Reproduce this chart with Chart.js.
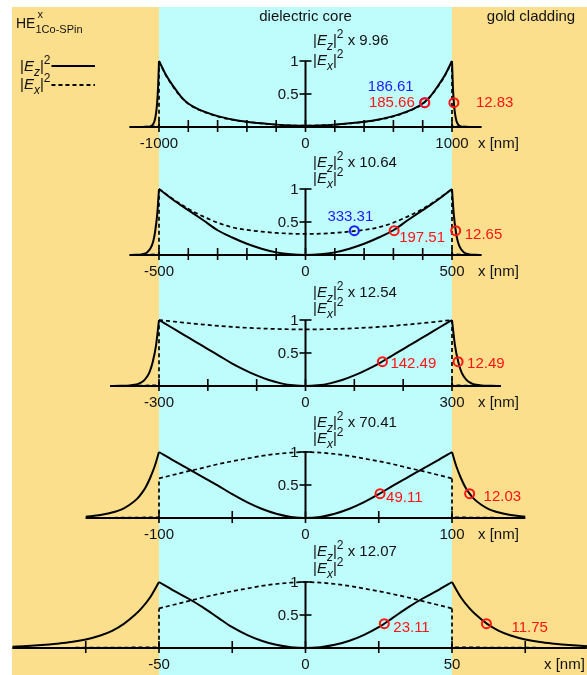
<!DOCTYPE html>
<html>
<head>
<meta charset="utf-8">
<script src="https://cdn.jsdelivr.net/npm/chart.js@4.4.0/dist/chart.umd.min.js"></script>
<style>
  html, body { margin: 0; padding: 0; background: #fff; }
  #wrap { position: relative; width: 587px; height: 675px; overflow: hidden; }
  #wrap canvas { position: absolute; left: 0; top: 0; }
</style>
</head>
<body>
<div id="wrap">
  <canvas id="p0" width="587" height="675"></canvas>
  <canvas id="p1" width="587" height="675"></canvas>
  <canvas id="p2" width="587" height="675"></canvas>
  <canvas id="p3" width="587" height="675"></canvas>
  <canvas id="p4" width="587" height="675"></canvas>
</div>
<script>
// Core half widths (nm) and axis ranges for the five panels
const coreRadii = [1000, 500, 300, 100, 50];
const axisMin = [-1200, -600, -400, -150, -100];
const axisMax = [1200, 600, 400, 150, 96];
const xTicks = [
    [-1000, -800, -600, -400, -200, 0, 200, 400, 600, 800, 1000],
    [-500, -400, -300, -200, -100, 0, 100, 200, 300, 400, 500],
    [-300, -200, -100, 0, 100, 200, 300],
    [-100, -50, 0, 50, 100],
    [-75, -50, -25, 0, 25, 50, 75]
];
const xTickLabels = [[-1000, 0, 1000], [-500, 0, 500], [-300, 0, 300], [-100, 0, 100], [-50, 0, 50]];
const yTicks = [0.5, 1];
const yTickLabels = ['0.5', '1'];
const ezFactors = ['9.96', '10.64', '12.54', '70.41', '12.07'];

// Panel 1: core radius 1000 nm
const p1EzX = [-1200, -1100, -1080, -1060, -1050, -1040, -1030, -1020, -1013, -1006, -1000,
    -950, -900, -850, -800, -750, -700, -600, -500, -400, -300, -200, -100, 0,
    100, 200, 300, 400, 500, 600, 700, 750, 800, 850, 900, 950,
    1000, 1006, 1013, 1020, 1030, 1040, 1050, 1060, 1080, 1100, 1200];
const p1EzY = [0, 0.001, 0.002, 0.009, 0.02, 0.044, 0.096, 0.21, 0.36, 0.62, 1,
    0.78, 0.61, 0.46, 0.355, 0.29, 0.24, 0.165, 0.115, 0.08, 0.055, 0.036, 0.024, 0.02,
    0.024, 0.036, 0.055, 0.08, 0.115, 0.165, 0.24, 0.29, 0.355, 0.46, 0.61, 0.78,
    1, 0.62, 0.36, 0.21, 0.096, 0.044, 0.02, 0.009, 0.002, 0.001, 0];
const p1ExX = [-1200, -1000, -1000, -950, -900, -850, -800, -750, -700, -600, -500, -400, -300, -200, -100, 0,
    100, 200, 300, 400, 500, 600, 700, 750, 800, 850, 900, 950, 1000, 1000, 1200];
const p1ExY = [0, 0.01, 1, 0.77, 0.6, 0.455, 0.35, 0.285, 0.235, 0.16, 0.11, 0.077, 0.053, 0.035, 0.024, 0.02,
    0.024, 0.035, 0.053, 0.077, 0.11, 0.16, 0.235, 0.285, 0.35, 0.455, 0.6, 0.77, 1, 0.01, 0];

// Panel 2: core radius 500 nm
const p2EzX = [-600, -580, -560, -550, -540, -530, -520, -513, -506, -500,
    -450, -400, -350, -300, -250, -200, -150, -100, -50, 0,
    50, 100, 150, 200, 250, 300, 350, 400, 450,
    500, 506, 513, 520, 530, 540, 550, 560, 580, 600];
const p2EzY = [0, 0.002, 0.009, 0.019, 0.042, 0.093, 0.2, 0.36, 0.62, 1,
    0.83, 0.68, 0.53, 0.375, 0.265, 0.17, 0.095, 0.04, 0.01, 0,
    0.01, 0.04, 0.095, 0.17, 0.265, 0.375, 0.53, 0.68, 0.83,
    1, 0.62, 0.36, 0.2, 0.093, 0.042, 0.019, 0.009, 0.002, 0];
const p2ExX = [-600, -500, -500, -450, -400, -350, -300, -250, -200, -150, -100, -50, 0,
    50, 100, 150, 200, 250, 300, 350, 400, 450, 500, 500, 600];
const p2ExY = [0, 0.01, 1, 0.84, 0.7, 0.585, 0.49, 0.42, 0.38, 0.355, 0.335, 0.323, 0.32,
    0.323, 0.335, 0.355, 0.38, 0.42, 0.49, 0.585, 0.7, 0.84, 1, 0.01, 0];

// Panel 3: core radius 300 nm
const p3EzX = [-400, -380, -360, -350, -340, -330, -320, -313, -306, -300,
    -275, -250, -225, -200, -175, -150, -125, -100, -75, -50, -25, 0,
    25, 50, 75, 100, 125, 150, 175, 200, 225, 250, 275,
    300, 306, 313, 320, 330, 340, 350, 360, 380, 400];
const p3EzY = [0, 0.002, 0.008, 0.018, 0.04, 0.09, 0.2, 0.36, 0.62, 1,
    0.89, 0.78, 0.67, 0.56, 0.45, 0.34, 0.245, 0.16, 0.09, 0.04, 0.01, 0,
    0.01, 0.04, 0.09, 0.16, 0.245, 0.34, 0.45, 0.56, 0.67, 0.78, 0.89,
    1, 0.62, 0.36, 0.2, 0.09, 0.04, 0.018, 0.008, 0.002, 0];
const p3ExX = [-400, -300, -300, -250, -200, -150, -100, -50, 0, 50, 100, 150, 200, 250, 300, 300, 400];
const p3ExY = [0, 0.01, 1, 0.96, 0.925, 0.895, 0.875, 0.862, 0.858, 0.862, 0.875, 0.895, 0.925, 0.96, 1, 0.01, 0];

// Panel 4: core radius 100 nm
const p4EzX = [-150, -140, -130, -125, -120, -115, -112, -109, -106, -103, -100,
    -90, -80, -70, -60, -50, -40, -30, -20, -10, 0,
    10, 20, 30, 40, 50, 60, 70, 80, 90,
    100, 103, 106, 109, 112, 115, 120, 125, 130, 140, 150];
const p4EzY = [0.02, 0.045, 0.095, 0.135, 0.2, 0.29, 0.37, 0.47, 0.61, 0.78, 1,
    0.87, 0.745, 0.62, 0.495, 0.36, 0.24, 0.14, 0.065, 0.017, 0,
    0.017, 0.065, 0.14, 0.24, 0.36, 0.495, 0.62, 0.745, 0.87,
    1, 0.78, 0.61, 0.47, 0.37, 0.29, 0.2, 0.135, 0.095, 0.045, 0.02];
const p4ExX = [-150, -100, -100, -90, -80, -70, -60, -50, -40, -30, -20, -10, 0,
    10, 20, 30, 40, 50, 60, 70, 80, 90, 100, 100, 150];
const p4ExY = [0, 0.01, 0.6, 0.655, 0.71, 0.76, 0.815, 0.86, 0.9, 0.94, 0.97, 0.99, 1,
    0.99, 0.97, 0.94, 0.9, 0.86, 0.815, 0.76, 0.71, 0.655, 0.6, 0.01, 0];

// Panel 5: core radius 50 nm
const p5EzX = [-100, -95, -90, -85, -80, -75, -70, -66, -62, -58, -56, -53, -50,
    -45, -40, -35, -30, -25, -20, -15, -10, -5, 0,
    5, 10, 15, 20, 25, 30, 35, 40, 45,
    50, 53, 56, 58, 62, 66, 70, 75, 80, 85, 90, 95, 100];
const p5EzY = [0.02, 0.03, 0.045, 0.065, 0.09, 0.13, 0.19, 0.26, 0.365, 0.51, 0.6, 0.77, 1,
    0.87, 0.75, 0.615, 0.465, 0.315, 0.2, 0.11, 0.048, 0.012, 0,
    0.012, 0.048, 0.11, 0.2, 0.315, 0.465, 0.615, 0.75, 0.87,
    1, 0.77, 0.6, 0.51, 0.365, 0.26, 0.19, 0.13, 0.09, 0.065, 0.045, 0.03, 0.02];
const p5ExX = [-100, -50, -50, -45, -40, -35, -30, -25, -20, -15, -10, -5, 0,
    5, 10, 15, 20, 25, 30, 35, 40, 45, 50, 50, 100];
const p5ExY = [0, 0.01, 0.6, 0.655, 0.71, 0.765, 0.815, 0.86, 0.9, 0.94, 0.97, 0.99, 1,
    0.99, 0.97, 0.94, 0.9, 0.86, 0.815, 0.765, 0.71, 0.655, 0.6, 0.01, 0];

// 1/e markers and their decay lengths (nm)
const ezMarkX = [[814.34, 1012.83], [302.49, 512.65], [157.51, 312.49], [50.89, 112.03], [26.89, 61.75]];
const ezMarkY = [[0.368, 0.368], [0.368, 0.368], [0.368, 0.368], [0.368, 0.368], [0.368, 0.368]];
const ezMarkText = [['185.66', '12.83'], ['197.51', '12.65'], ['142.49', '12.49'], ['49.11', '12.03'], ['23.11', '11.75']];
const exMarkX = [[813.39], [166.69], [], [], []];
const exMarkY = [[0.368], [0.368], [], [], []];
const exMarkText = [['186.61'], ['333.31'], [], [], []];

// Layout (pixels) and styles
const W = 587, H = 675;
const CORE_LEFT_PX = 159, CORE_RIGHT_PX = 452;
const CENTER_PX = (CORE_LEFT_PX + CORE_RIGHT_PX) / 2;
const AXIS_Y = [127, 255, 386, 518, 648];
const UNIT_PX = 66;
const TITLE_X = 313;
const TITLE_BASELINES = [[45, 65], [167, 183], [297, 313], [427, 443], [556, 573]];
const XUNIT_X = [478, 478, 478, 478, 544];
const ezLabelOffset = [
    [[-10, 0, 'right'], [22, 0, 'left']],
    [[5, 7, 'left'], [9, 4, 'left']],
    [[8, 2, 'left'], [9, 2, 'left']],
    [[6, 4, 'left'], [14, 3, 'left']],
    [[9, 4, 'left'], [25, 4, 'left']]
];
const exLabelOffset = [[[-11, -16, 'right']], [[-4, -14, 'center']], [], [], []];
const GOLD = '#FCDF8C';
const CYAN = '#BFFCFC';
const RED = '#ff1414';
const BLUE = '#1c1cff';
const FAMILY = '"Liberation Sans", Arial, sans-serif';

const profiles = [
    [p1EzX, p1EzY, p1ExX, p1ExY],
    [p2EzX, p2EzY, p2ExX, p2ExY],
    [p3EzX, p3EzY, p3ExX, p3ExY],
    [p4EzX, p4EzY, p4ExX, p4ExY],
    [p5EzX, p5EzY, p5ExX, p5ExY]
];

function toPoints(xs, ys) {
    return xs.map((x, i) => ({x: x, y: ys[i]}));
}

// split a profile into cladding-left / core / cladding-right at x = -a and x = a
function splitProfile(xs, ys, a) {
    const pts = toPoints(xs, ys);
    const l = xs.lastIndexOf(-a);
    const r = xs.indexOf(a);
    return [pts.slice(0, l + 1), pts.slice(l, r + 1), pts.slice(r)];
}

function font(size, italic) {
    return (italic ? 'italic ' : '') + size + 'px ' + FAMILY;
}

// draw runs of text: [text, italic, 'sub'|'sup'|null]
function drawRich(ctx, runs, x, y, size, color) {
    ctx.fillStyle = color;
    ctx.textAlign = 'left';
    ctx.textBaseline = 'alphabetic';
    runs.forEach(run => {
        const [t, it, pos] = run;
        let s = size, dy = 0;
        if (pos === 'sub') { s = Math.round(size * 0.82); dy = size * 0.3; }
        if (pos === 'sup') { s = Math.round(size * 0.78); dy = -size * 0.45; }
        ctx.font = font(s, it);
        ctx.fillText(t, x, y + dy);
        x += ctx.measureText(t).width;
    });
    return x;
}

function line(ctx, x1, y1, x2, y2) {
    ctx.beginPath();
    ctx.moveTo(x1, y1);
    ctx.lineTo(x2, y2);
    ctx.stroke();
}

function drawBackground(chart) {
    const ctx = chart.ctx;
    const xs = chart.scales.x;
    const a = coreRadii[0];
    const l = xs.getPixelForValue(-a), r = xs.getPixelForValue(a);
    ctx.save();
    ctx.fillStyle = '#fff';
    ctx.fillRect(0, 0, W, H);
    ctx.fillStyle = GOLD;
    ctx.fillRect(12, 7, W - 12, H - 7);
    ctx.fillStyle = CYAN;
    ctx.fillRect(l, 7, r - l, H - 7);
    ctx.restore();
}

function drawAxes(chart, i) {
    const ctx = chart.ctx;
    const xs = chart.scales.x, ys = chart.scales.y;
    const y0 = ys.getPixelForValue(0), x0 = xs.getPixelForValue(0);
    ctx.save();
    ctx.strokeStyle = '#000';
    ctx.lineWidth = 2;
    line(ctx, xs.getPixelForValue(axisMin[i]), y0, xs.getPixelForValue(axisMax[i]), y0);
    ctx.lineWidth = 1.6;
    xTicks[i].forEach(v => {
        const p = xs.getPixelForValue(v);
        line(ctx, p, y0 - 7, p, y0 + 5);
    });
    ctx.lineWidth = 2;
    line(ctx, x0, y0, x0, ys.getPixelForValue(1));
    ctx.lineWidth = 1.6;
    yTicks.forEach(v => {
        const p = ys.getPixelForValue(v);
        line(ctx, x0 - 6, p, x0 + 6, p);
    });
    ctx.restore();
}

function drawHeader(ctx) {
    ctx.save();
    ctx.fillStyle = '#111';
    ctx.font = font(15, false);
    ctx.textAlign = 'center';
    ctx.textBaseline = 'alphabetic';
    ctx.fillText('dielectric core', CENTER_PX, 21);
    ctx.fillText('gold cladding', 531, 21);
    ctx.textAlign = 'left';
    ctx.font = font(14, false);
    ctx.fillText('HE', 16, 28);
    const hx = 16 + ctx.measureText('HE').width;
    ctx.font = font(11, false);
    ctx.fillText('x', hx + 2, 18);
    ctx.fillText('1Co-SPin', hx, 33);
    // legend
    let ex = drawRich(ctx, [['|', false], ['E', true], ['z', true, 'sub'], ['|', false], ['2', false, 'sup']], 20, 71, 15, '#111');
    ctx.strokeStyle = '#000';
    ctx.lineWidth = 2;
    line(ctx, ex + 1, 66, 95, 66);
    ex = drawRich(ctx, [['|', false], ['E', true], ['x', true, 'sub'], ['|', false], ['2', false, 'sup']], 20, 89, 15, '#111');
    ctx.setLineDash([4, 3]);
    line(ctx, ex + 1, 85, 95, 85);
    ctx.restore();
}

function drawTexts(chart, i) {
    const ctx = chart.ctx;
    const xs = chart.scales.x, ys = chart.scales.y;
    const y0 = ys.getPixelForValue(0), x0 = xs.getPixelForValue(0);
    ctx.save();
    if (i === 0) drawHeader(ctx);
    // panel title
    drawRich(ctx, [['|', false], ['E', true], ['z', true, 'sub'], ['|', false], ['2', false, 'sup'], [' x ' + ezFactors[i], false]],
        TITLE_X, TITLE_BASELINES[i][0], 15, '#111');
    drawRich(ctx, [['|', false], ['E', true], ['x', true, 'sub'], ['|', false], ['2', false, 'sup']],
        TITLE_X, TITLE_BASELINES[i][1], 15, '#111');
    // tick labels
    ctx.fillStyle = '#111';
    ctx.font = font(15, false);
    ctx.textBaseline = 'middle';
    ctx.textAlign = 'right';
    yTicks.forEach((v, k) => ctx.fillText(yTickLabels[k], x0 - 7, ys.getPixelForValue(v) + 1));
    ctx.textAlign = 'center';
    xTickLabels[i].forEach(v => ctx.fillText(String(v), xs.getPixelForValue(v), y0 + 17));
    ctx.textAlign = 'left';
    ctx.fillText('x [nm]', XUNIT_X[i], y0 + 17);
    // marker labels
    ezMarkText[i].forEach((t, k) => {
        const [dx, dy, al] = ezLabelOffset[i][k];
        ctx.fillStyle = RED;
        ctx.textAlign = al;
        ctx.fillText(t, xs.getPixelForValue(ezMarkX[i][k]) + dx, ys.getPixelForValue(ezMarkY[i][k]) + dy);
    });
    exMarkText[i].forEach((t, k) => {
        const [dx, dy, al] = exLabelOffset[i][k];
        ctx.fillStyle = BLUE;
        ctx.textAlign = al;
        ctx.fillText(t, xs.getPixelForValue(exMarkX[i][k]) + dx, ys.getPixelForValue(exMarkY[i][k]) + dy);
    });
    ctx.restore();
}

const decor = {
    id: 'decor',
    beforeDraw(chart, args, opts) {
        if (opts.index === 0) drawBackground(chart);
    },
    beforeDatasetsDraw(chart, args, opts) {
        drawAxes(chart, opts.index);
    },
    afterDraw(chart, args, opts) {
        drawTexts(chart, opts.index);
    }
};

function pxFor(i, x) {
    return CENTER_PX + x * (CORE_RIGHT_PX - CORE_LEFT_PX) / (2 * coreRadii[i]);
}

const solidStyle = {borderColor: '#000', borderWidth: 2, pointRadius: 0, fill: false, clip: false};
const dashStyle = {borderColor: '#000', borderWidth: 1.7, borderDash: [4, 3], pointRadius: 0, fill: false, clip: false};

for (let i = 0; i < 5; i++) {
    const a = coreRadii[i];
    const [ezX, ezY, exX, exY] = profiles[i];
    const ez = splitProfile(ezX, ezY, a);
    const ex = splitProfile(exX, exY, a);
    const datasets = [
        {data: toPoints(ezMarkX[i], ezMarkY[i]), showLine: false, pointRadius: 4.5, pointBorderWidth: 2,
         pointBorderColor: RED, pointBackgroundColor: 'rgba(0,0,0,0)', clip: false},
        {data: toPoints(exMarkX[i], exMarkY[i]), showLine: false, pointRadius: 4.5, pointBorderWidth: 2,
         pointBorderColor: BLUE, pointBackgroundColor: 'rgba(0,0,0,0)', clip: false},
        Object.assign({data: ez[0], cubicInterpolationMode: 'monotone'}, solidStyle),
        Object.assign({data: ez[1], cubicInterpolationMode: 'monotone'}, solidStyle),
        Object.assign({data: ez[2], cubicInterpolationMode: 'monotone'}, solidStyle),
        Object.assign({data: ex[0], tension: 0}, dashStyle),
        Object.assign({data: ex[1], cubicInterpolationMode: 'monotone'}, dashStyle),
        Object.assign({data: ex[2], tension: 0}, dashStyle)
    ];
    const y0 = AXIS_Y[i];
    new Chart(document.getElementById('p' + i), {
        type: 'line',
        data: {datasets: datasets},
        options: {
            responsive: false,
            animation: false,
            devicePixelRatio: 1,
            events: [],
            layout: {
                autoPadding: false,
                padding: {
                    left: pxFor(i, axisMin[i]),
                    right: W - pxFor(i, axisMax[i]),
                    top: y0 - UNIT_PX,
                    bottom: H - y0
                }
            },
            scales: {
                x: {type: 'linear', bounds: 'data', min: axisMin[i], max: axisMax[i], display: false},
                y: {type: 'linear', bounds: 'data', min: 0, max: 1, display: false}
            },
            plugins: {
                legend: {display: false},
                tooltip: {enabled: false},
                decor: {index: i}
            }
        },
        plugins: [decor]
    });
}
</script>
</body>
</html>
